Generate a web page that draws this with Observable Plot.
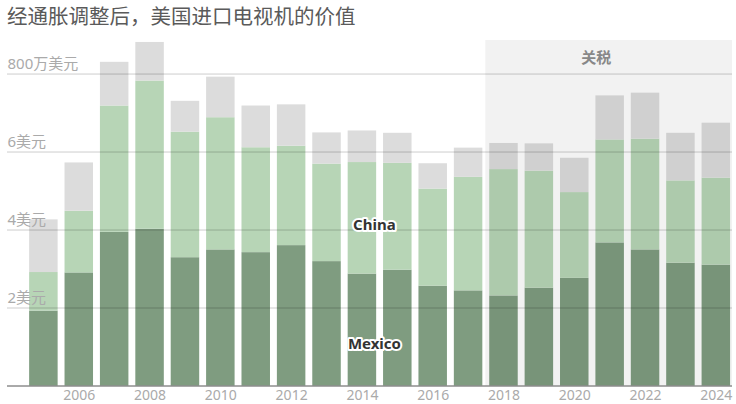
<!DOCTYPE html>
<html><head><meta charset="utf-8">
<script src="https://cdn.jsdelivr.net/npm/d3@7"></script>
<script src="https://cdn.jsdelivr.net/npm/@observablehq/plot@0.6"></script>
<style>
html,body{margin:0;background:#fff;overflow:hidden;font-family:"Noto Sans","Noto Sans CJK SC",sans-serif;}
#title{height:34px;padding-left:7px;font-size:20.5px;line-height:30px;color:#5a5a5a;font-family:"Noto Sans CJK SC",sans-serif;white-space:nowrap;}
#chart{display:block;}
#chart svg{display:block;overflow:visible;}
</style></head><body>
<div id="title">经通胀调整后，美国进口电视机的价值</div>
<div id="chart"></div>
<script>
const years = [2005,2006,2007,2008,2009,2010,2011,2012,2013,2014,2015,2016,2017,2018,2019,2020,2021,2022,2023,2024];
const mexico = [1.92,2.90,3.94,4.02,3.29,3.49,3.42,3.60,3.19,2.87,2.97,2.56,2.44,2.31,2.51,2.76,3.67,3.49,3.15,3.10];
const china  = [0.99,1.58,3.24,3.80,3.22,3.39,2.69,2.55,2.50,2.86,2.74,2.49,2.91,3.24,3.00,2.20,2.64,2.84,2.11,2.23];
const other  = [1.35,1.24,1.12,0.99,0.79,1.04,1.07,1.06,0.80,0.81,0.77,0.65,0.75,0.67,0.70,0.88,1.13,1.18,1.22,1.41];
const seriesNames = ["Mexico","China","Other"];
const seriesColors = ["#7f9c80","#b7d5b6","#dcdcdc"];
const yTicks = [2,4,6,8];
const yTickLabels = ["2美元","4美元","6美元","800万美元"];
const xTicks = [2006,2008,2010,2012,2014,2016,2018,2020,2022,2024];
const tariffStart = 2018;
const tariffLabel = "关税";

const data = [];
years.forEach((yr,i)=>{
  data.push({year: yr, series: "Mexico", value: mexico[i]});
  data.push({year: yr, series: "China", value: china[i]});
  data.push({year: yr, series: "Other", value: other[i]});
});

const shade = (index, scales, values, dims) => {
  const x = scales.x;
  const bw = x.bandwidth();
  const step = x.step();
  const left = x(tariffStart) - (step - bw) / 2 - 0.5;
  const right = dims.width - dims.marginRight;
  const top = dims.marginTop;
  const bottom = dims.height - dims.marginBottom;
  const r = document.createElementNS("http://www.w3.org/2000/svg","rect");
  r.setAttribute("x", left);
  r.setAttribute("y", top);
  r.setAttribute("width", right - left);
  r.setAttribute("height", bottom - top);
  r.setAttribute("fill", "#000");
  r.setAttribute("fill-opacity", 0.05);
  return r;
};

const chart = Plot.plot({
  width: 736,
  height: 380,
  marginLeft: 7,
  marginRight: 4,
  marginTop: 6,
  marginBottom: 28.5,
  style: {fontFamily: '"Noto Sans","Noto Sans CJK SC",sans-serif', background: "#fff", overflow: "visible"},
  x: {type: "band", domain: years, paddingInner: 0.195, paddingOuter: 0.34, align: 0.92, round: false, label: null},
  y: {domain: [0, 8.86], label: null, axis: null},
  color: {domain: seriesNames, range: seriesColors},
  marks: [
    Plot.barY(data, {x: "year", y: "value", fill: "series"}),
    shade,
    Plot.ruleY(yTicks, {stroke: "#000", strokeOpacity: 0.2}),
    Plot.ruleY([0], {stroke: "#555", strokeWidth: 1}),
    Plot.text(yTicks, {y: d => d, text: (d,i) => yTickLabels[i], frameAnchor: "left", textAnchor: "start", dy: -10, fill: "#aaa", fontSize: 15}),
    Plot.axisX({ticks: xTicks, tickFormat: d => String(d), tickSize: 0, tickPadding: 4, fontSize: 14, color: "#aaa", label: null}),
    Plot.text([tariffLabel], {x: [2021], text: d => d, frameAnchor: "top", dx: -14, dy: 12, fill: "#888", fontSize: 15, fontWeight: "bold"}),
    Plot.text(["China"], {x: [2014], y: [4.12], text: d => d, dx: 12, fill: "#333", stroke: "#fff", strokeWidth: 4, fontSize: 15, fontWeight: "bold"}),
    Plot.text(["Mexico"], {x: [2014], y: [1.06], text: d => d, dx: 12, fill: "#333", stroke: "#fff", strokeWidth: 4, fontSize: 15, fontWeight: "bold"})
  ]
});
document.getElementById("chart").appendChild(chart);
</script>
</body></html>
